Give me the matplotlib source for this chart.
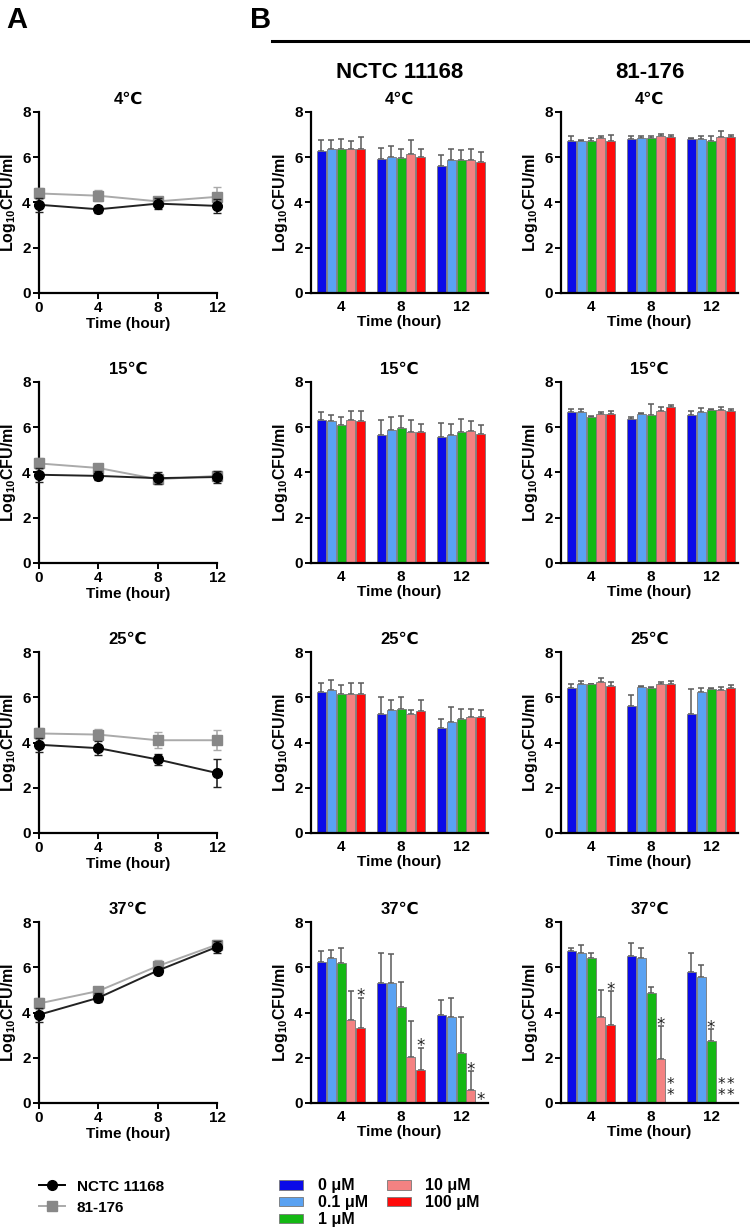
import numpy as np
import matplotlib
matplotlib.use("Agg")
import matplotlib.pyplot as plt
from matplotlib.lines import Line2D
from matplotlib.patches import Patch

plt.rcParams['font.family'] = ['Liberation Sans', 'DejaVu Sans']
plt.rcParams['font.weight'] = 'bold'
plt.rcParams['mathtext.default'] = 'regular'

# temperatures (one row each)
temps = ['4℃', '15℃', '25℃', '37℃']

# panel A: time course, mean and sd
a_time = [0, 4, 8, 12]
a_nctc_mean = [[3.9, 3.7, 3.95, 3.85],
               [3.9, 3.85, 3.75, 3.8],
               [3.9, 3.75, 3.25, 2.65],
               [3.9, 4.65, 5.85, 6.9]]
a_nctc_sd = [[0.3, 0.15, 0.25, 0.3],
             [0.3, 0.2, 0.25, 0.25],
             [0.3, 0.3, 0.25, 0.6],
             [0.3, 0.2, 0.15, 0.25]]
a_8176_mean = [[4.4, 4.3, 4.05, 4.25],
               [4.4, 4.2, 3.7, 3.85],
               [4.4, 4.35, 4.1, 4.1],
               [4.4, 4.95, 6.05, 7.0]]
a_8176_sd = [[0.25, 0.25, 0.15, 0.45],
             [0.25, 0.1, 0.15, 0.15],
             [0.25, 0.25, 0.35, 0.45],
             [0.25, 0.15, 0.25, 0.2]]

# panel B: bars, [temp][time group][concentration]
b_times = ['4', '8', '12']
concs = ['0 μM', '0.1 μM', '1 μM', '10 μM', '100 μM']
conc_colors = ['#0a0ae8', '#5aa2f2', '#14b814', '#f48282', '#ff0a0a']

b_nctc_mean = [
    [[6.26, 6.36, 6.36, 6.36, 6.36], [5.92, 6.0, 5.95, 6.16, 6.0], [5.63, 5.9, 5.86, 5.86, 5.77]],
    [[6.32, 6.26, 6.1, 6.32, 6.26], [5.65, 5.87, 5.95, 5.81, 5.77], [5.59, 5.67, 5.81, 5.84, 5.7]],
    [[6.25, 6.33, 6.14, 6.14, 6.13], [5.25, 5.44, 5.5, 5.25, 5.4], [4.65, 4.9, 5.06, 5.13, 5.13]],
    [[6.23, 6.41, 6.2, 3.66, 3.32], [5.3, 5.3, 4.26, 2.02, 1.45], [3.9, 3.82, 2.22, 0.58, 0.0]],
]
b_nctc_sd = [
    [[0.5, 0.4, 0.45, 0.35, 0.55], [0.48, 0.48, 0.4, 0.6, 0.36], [0.45, 0.45, 0.45, 0.5, 0.45]],
    [[0.37, 0.3, 0.37, 0.4, 0.46], [0.67, 0.6, 0.56, 0.5, 0.37], [0.58, 0.47, 0.55, 0.45, 0.4]],
    [[0.39, 0.45, 0.4, 0.49, 0.5], [0.75, 0.43, 0.5, 0.18, 0.49], [0.37, 0.67, 0.42, 0.34, 0.3]],
    [[0.49, 0.37, 0.63, 1.3, 1.34], [1.35, 1.3, 1.1, 1.6, 1.0], [0.65, 0.84, 1.58, 0.84, 0.0]],
]
b_8176_mean = [
    [[6.74, 6.71, 6.74, 6.83, 6.71], [6.79, 6.83, 6.83, 6.96, 6.89], [6.79, 6.79, 6.74, 6.9, 6.89]],
    [[6.66, 6.69, 6.45, 6.6, 6.6], [6.35, 6.57, 6.54, 6.72, 6.88], [6.54, 6.69, 6.77, 6.77, 6.72]],
    [[6.39, 6.57, 6.57, 6.66, 6.51], [5.62, 6.44, 6.42, 6.57, 6.57], [5.28, 6.25, 6.36, 6.32, 6.39]],
    [[6.73, 6.64, 6.41, 3.8, 3.44], [6.5, 6.41, 4.84, 1.94, 0.0], [5.78, 5.59, 2.75, 0.0, 0.0]],
]
b_8176_sd = [
    [[0.22, 0.05, 0.1, 0.13, 0.27], [0.15, 0.1, 0.1, 0.07, 0.1], [0.07, 0.15, 0.22, 0.25, 0.1]],
    [[0.13, 0.1, 0.06, 0.09, 0.12], [0.1, 0.04, 0.5, 0.16, 0.1], [0.19, 0.18, 0.04, 0.13, 0.07]],
    [[0.21, 0.16, 0.03, 0.18, 0.15], [0.5, 0.06, 0.03, 0.09, 0.15], [1.1, 0.15, 0.07, 0.12, 0.17]],
    [[0.14, 0.34, 0.2, 1.2, 1.5], [0.58, 0.42, 0.27, 1.45, 0.0], [0.83, 0.51, 0.5, 0.0, 0.0]],
]

# significance marks: (temp, time group, conc, number of stars)
b_nctc_sig = [(3, 0, 4, 1), (3, 1, 4, 1), (3, 2, 3, 1), (3, 2, 4, 1)]
b_8176_sig = [(3, 0, 4, 1), (3, 1, 3, 1), (3, 1, 4, 2), (3, 2, 2, 1), (3, 2, 3, 2), (3, 2, 4, 2)]

W, H = 750, 1231
fig = plt.figure(figsize=(W / 100, H / 100), dpi=100)


def px_axes(left, top, width, height):
    return fig.add_axes([left / W, 1 - (top + height) / H, width / W, height / H])


def style_axes(ax):
    for s in ['top', 'right']:
        ax.spines[s].set_visible(False)
    for s in ['left', 'bottom']:
        ax.spines[s].set_linewidth(1.6)
    ax.tick_params(width=1.4, length=4, labelsize=11, pad=2)
    ax.set_ylim(0, 8)
    ax.set_yticks([0, 2, 4, 6, 8])
    ax.set_ylabel('Log$_{10}$CFU/ml', fontsize=11.5, fontweight='bold', labelpad=3)
    for lab in ax.get_xticklabels() + ax.get_yticklabels():
        lab.set_fontweight('bold')


row_tops = [112, 382, 652, 922]
ax_h = 181

# panel A
for i, t in enumerate(temps):
    ax = px_axes(39, row_tops[i], 178, ax_h)
    ax.errorbar(a_time, a_8176_mean[i], yerr=a_8176_sd[i], color='#aaaaaa', lw=1.4,
                marker='s', ms=6.5, mfc='#888888', mec='#888888', ecolor='#aaaaaa',
                elinewidth=1.2, capsize=3, clip_on=False, zorder=3)
    ax.errorbar(a_time, a_nctc_mean[i], yerr=a_nctc_sd[i], color='#222222', lw=1.4,
                marker='o', ms=7, mfc='black', mec='black', ecolor='#222222',
                elinewidth=1.2, capsize=3, clip_on=False, zorder=4)
    ax.set_xlim(0, 12)
    ax.set_xticks(a_time)
    style_axes(ax)
    ax.set_title(t, fontsize=12, fontweight='bold', pad=6)
    ax.set_xlabel('Time (hour)', fontsize=11, fontweight='bold', labelpad=1)

# panel B
bar_w = 0.15
step = 0.165
for col, (means, sds, sigs, left) in enumerate([(b_nctc_mean, b_nctc_sd, b_nctc_sig, 311),
                                                (b_8176_mean, b_8176_sd, b_8176_sig, 561)]):
    for i, t in enumerate(temps):
        ax = px_axes(left, row_tops[i], 177, ax_h)
        m = np.array(means[i])
        s = np.array(sds[i])
        for c in range(len(concs)):
            xs = np.arange(len(b_times)) + (c - 2) * step
            ax.bar(xs, m[:, c], width=bar_w, color=conc_colors[c], edgecolor='#777777',
                   linewidth=0.6, zorder=2)
            has = s[:, c] > 0
            ax.errorbar(xs[has], m[has, c], yerr=[np.zeros(has.sum()), s[has, c]],
                        fmt='none', ecolor='#5a5a5a', elinewidth=1.1, capsize=2.2,
                        capthick=1.1, zorder=1)
        for (ti, g, c, n) in sigs:
            if ti != i:
                continue
            x = g + (c - 2) * step
            top = means[ti][g][c] + sds[ti][g][c]
            if n == 1:
                y = top + 0.05 if top > 0 else 0.15
                ax.text(x, y, '*', ha='center', va='center', fontsize=12,
                        family='DejaVu Sans', color='#222222', fontweight='normal', zorder=5)
            else:
                ax.text(x, 0.02, '*\n*', ha='center', va='bottom', fontsize=11,
                        family='DejaVu Sans', linespacing=0.6, color='#222222',
                        fontweight='normal', zorder=5)
        ax.set_xlim(-0.5, 2.45)
        ax.set_xticks(range(len(b_times)))
        ax.set_xticklabels(b_times)
        style_axes(ax)
        ax.tick_params(axis='x', length=0, pad=5)
        ax.set_title(t, fontsize=12, fontweight='bold', pad=6)
        ax.set_xlabel('Time (hour)', fontsize=11, fontweight='bold', labelpad=1)

# headings
fig.text(6 / W, 1 - 20 / H, 'A', fontsize=21, fontweight='bold', va='center')
fig.text(250 / W, 1 - 20 / H, 'B', fontsize=21, fontweight='bold', va='center')
fig.add_artist(Line2D([272 / W, 1.0], [1 - 41 / H, 1 - 41 / H], color='black', lw=2.2,
                      transform=fig.transFigure))
fig.text(400 / W, 1 - 72 / H, 'NCTC 11168', fontsize=16, fontweight='bold',
         ha='center', va='center')
fig.text(650 / W, 1 - 72 / H, '81-176', fontsize=16, fontweight='bold',
         ha='center', va='center')

# legends
strain_handles = [Line2D([], [], color='black', marker='o', ms=7, lw=1.4),
                  Line2D([], [], color='#aaaaaa', marker='s', ms=6.5, mfc='#888888',
                         mec='#888888', lw=1.4)]
fig.legend(strain_handles, ['NCTC 11168', '81-176'], loc='upper left',
           bbox_to_anchor=(25 / W, 1 - 1166 / H), frameon=False,
           prop={'size': 11, 'weight': 'bold'}, handlelength=1.7,
           labelspacing=0.45, handletextpad=0.8)

conc_handles = [Patch(facecolor=conc_colors[c], edgecolor='#777777', linewidth=0.6)
                for c in range(len(concs))]
fig.legend(conc_handles, concs, loc='upper left', ncol=2,
           bbox_to_anchor=(265 / W, 1 - 1164 / H), frameon=False,
           prop={'size': 11.5, 'weight': 'bold'}, handlelength=1.5, handleheight=0.55,
           labelspacing=0.12, handletextpad=0.9, columnspacing=1.2)

fig.savefig('out.png', dpi=100, facecolor='white')
